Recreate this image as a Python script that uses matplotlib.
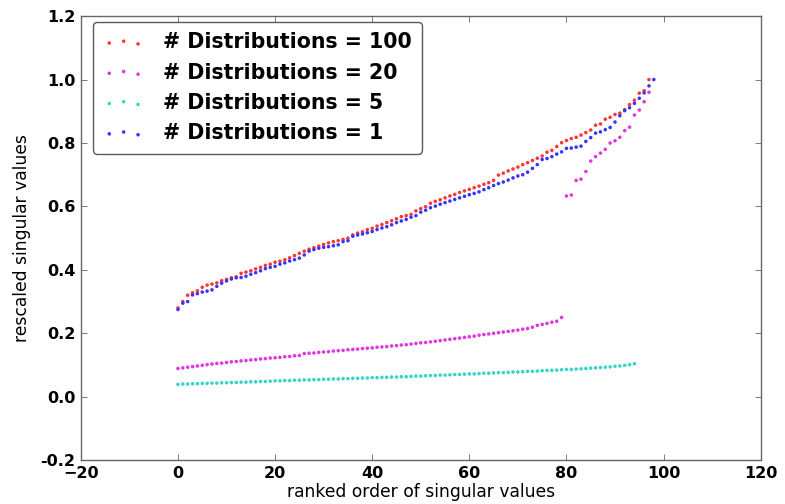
import matplotlib
matplotlib.use("Agg")
import matplotlib.pyplot as plt
import numpy as np

# rescaled singular values, ranked
dist_100 = [0.280, 0.300, 0.320, 0.328, 0.334, 0.345, 0.352, 0.355, 0.359, 0.366,
            0.370, 0.375, 0.378, 0.389, 0.393, 0.397, 0.403, 0.408, 0.414, 0.418,
            0.424, 0.427, 0.432, 0.438, 0.445, 0.452, 0.459, 0.465, 0.470, 0.475,
            0.480, 0.485, 0.489, 0.492, 0.496, 0.500, 0.510, 0.516, 0.520, 0.527,
            0.531, 0.538, 0.543, 0.549, 0.555, 0.561, 0.568, 0.571, 0.575, 0.586,
            0.593, 0.599, 0.610, 0.616, 0.621, 0.627, 0.633, 0.638, 0.644, 0.649,
            0.654, 0.659, 0.664, 0.670, 0.675, 0.682, 0.699, 0.705, 0.712, 0.718,
            0.724, 0.732, 0.738, 0.745, 0.752, 0.759, 0.771, 0.777, 0.789, 0.801,
            0.808, 0.814, 0.818, 0.825, 0.833, 0.841, 0.856, 0.860, 0.875, 0.881,
            0.890, 0.894, 0.905, 0.921, 0.935, 0.957, 0.965, 1.000]

dist_20 = [0.089, 0.091, 0.093, 0.095, 0.097, 0.099, 0.101, 0.103, 0.105, 0.106,
           0.108, 0.110, 0.111, 0.113, 0.114, 0.116, 0.117, 0.119, 0.120, 0.122,
           0.123, 0.124, 0.126, 0.127, 0.129, 0.130, 0.136, 0.137, 0.138, 0.140,
           0.141, 0.142, 0.144, 0.145, 0.146, 0.148, 0.149, 0.150, 0.152, 0.153,
           0.154, 0.156, 0.157, 0.158, 0.160, 0.161, 0.163, 0.164, 0.166, 0.168,
           0.170, 0.171, 0.173, 0.175, 0.177, 0.179, 0.181, 0.183, 0.185, 0.187,
           0.189, 0.191, 0.194, 0.196, 0.198, 0.200, 0.202, 0.204, 0.206, 0.208,
           0.210, 0.213, 0.215, 0.219, 0.225, 0.228, 0.231, 0.235, 0.238, 0.250,
           0.633, 0.636, 0.682, 0.686, 0.710, 0.743, 0.757, 0.768, 0.780, 0.800,
           0.807, 0.818, 0.839, 0.850, 0.888, 0.904, 0.930, 0.960]

dist_5 = [0.039, 0.040, 0.040, 0.041, 0.041, 0.042, 0.042, 0.043, 0.043, 0.044,
          0.044, 0.045, 0.045, 0.046, 0.046, 0.047, 0.047, 0.048, 0.048, 0.049,
          0.050, 0.050, 0.051, 0.051, 0.052, 0.052, 0.053, 0.053, 0.054, 0.054,
          0.055, 0.055, 0.056, 0.056, 0.057, 0.057, 0.058, 0.058, 0.059, 0.059,
          0.060, 0.060, 0.061, 0.061, 0.062, 0.062, 0.063, 0.063, 0.064, 0.065,
          0.065, 0.066, 0.067, 0.067, 0.068, 0.068, 0.069, 0.070, 0.070, 0.071,
          0.072, 0.072, 0.073, 0.074, 0.074, 0.075, 0.076, 0.076, 0.077, 0.078,
          0.078, 0.079, 0.080, 0.080, 0.081, 0.082, 0.083, 0.083, 0.084, 0.085,
          0.086, 0.086, 0.087, 0.088, 0.089, 0.090, 0.091, 0.092, 0.093, 0.094,
          0.096, 0.097, 0.099, 0.101, 0.104]

dist_1 = [0.275, 0.295, 0.300, 0.321, 0.325, 0.330, 0.333, 0.337, 0.348, 0.358,
          0.365, 0.371, 0.375, 0.376, 0.380, 0.386, 0.391, 0.397, 0.404, 0.408,
          0.411, 0.418, 0.422, 0.428, 0.432, 0.437, 0.447, 0.459, 0.464, 0.468,
          0.471, 0.473, 0.476, 0.479, 0.489, 0.492, 0.506, 0.510, 0.513, 0.517,
          0.521, 0.527, 0.532, 0.536, 0.542, 0.549, 0.554, 0.559, 0.566, 0.571,
          0.582, 0.588, 0.596, 0.601, 0.607, 0.612, 0.617, 0.622, 0.627, 0.632,
          0.637, 0.641, 0.646, 0.653, 0.659, 0.666, 0.672, 0.677, 0.683, 0.690,
          0.696, 0.700, 0.708, 0.720, 0.732, 0.748, 0.751, 0.757, 0.765, 0.772,
          0.783, 0.784, 0.787, 0.790, 0.805, 0.817, 0.831, 0.835, 0.842, 0.849,
          0.866, 0.886, 0.902, 0.911, 0.925, 0.941, 0.958, 0.980, 1.000]

series = [(dist_100, '#ff3535', '# Distributions = 100'),
          (dist_20, '#e035e0', '# Distributions = 20'),
          (dist_5, '#35d5c8', '# Distributions = 5'),
          (dist_1, '#3535ff', '# Distributions = 1')]

fig = plt.figure(figsize=(7.85, 5.04), dpi=100, facecolor='white')
ax = fig.add_axes([0.103, 0.087, 0.866, 0.881])

for vals, col, lab in series:
    ax.scatter(np.arange(len(vals)), vals, s=6.5, color=col, edgecolors='none', label=lab)

ax.set_xlim(-20, 120)
ax.set_ylim(-0.2, 1.2)
ax.set_xticks(np.arange(-20, 121, 20))
ax.set_yticks(np.arange(-0.2, 1.21, 0.2))
ax.set_yticklabels(['%.1f' % v for v in np.arange(-0.2, 1.21, 0.2)])
ax.tick_params(direction='in', top=True, right=True, length=4, width=0.6,
               color='0.4', labelsize=11.5, pad=4)
for lbl in ax.get_xticklabels() + ax.get_yticklabels():
    lbl.set_fontweight('bold')
for sp in ax.spines.values():
    sp.set_color('0.4')
    sp.set_linewidth(1.0)

ax.set_xlabel('ranked order of singular values', fontsize=12.3, labelpad=2)
ax.set_ylabel('rescaled singular values', fontsize=12.3, labelpad=7)

leg = ax.legend(loc='upper left', bbox_to_anchor=(0.0176, 0.9865), borderaxespad=0,
                scatterpoints=3, scatteryoffsets=[0.375, 0.5, 0.3125],
                prop={'weight': 'bold', 'size': 14.8}, fancybox=True, framealpha=1,
                borderpad=0.5, labelspacing=0.5, handlelength=2.0, handletextpad=0.9)
leg.get_frame().set_edgecolor('0.35')
leg.get_frame().set_linewidth(1.0)

fig.savefig('out.png', dpi=100, facecolor='white')
